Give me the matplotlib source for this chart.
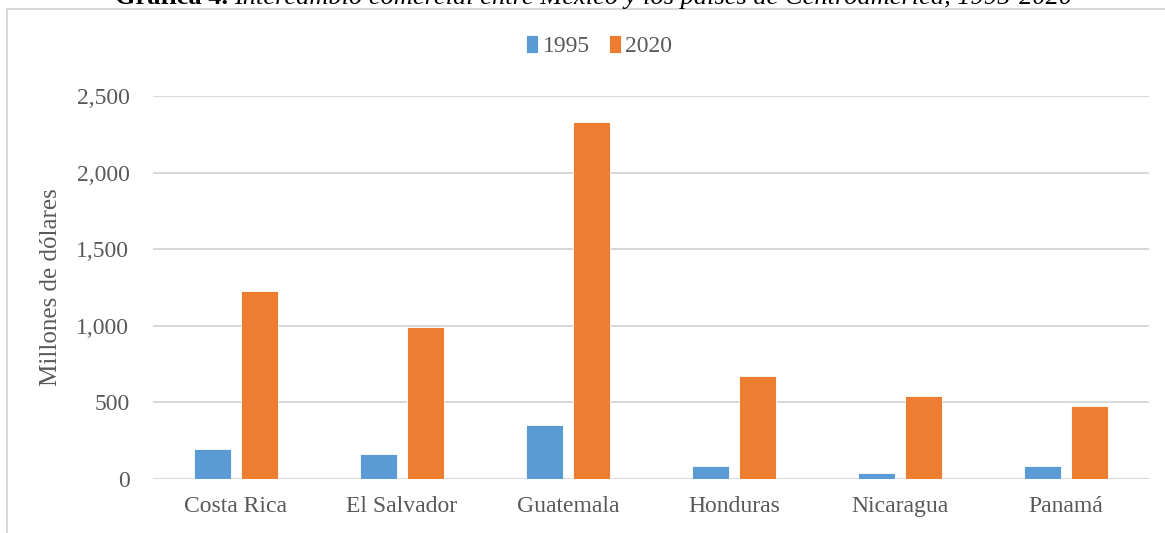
import numpy as np
import matplotlib.pyplot as plt
from matplotlib.patches import Rectangle
from matplotlib.ticker import FuncFormatter

countries = ["Costa Rica", "El Salvador", "Guatemala", "Honduras", "Nicaragua", "Panamá"]
years = ["1995", "2020"]
values_1995 = [196, 165, 354, 82, 41, 87]
values_2020 = [1224, 995, 2331, 675, 545, 478]
yticks = [0, 500, 1000, 1500, 2000, 2500]

blue = "#5B9BD5"
orange = "#ED7D31"
grey_text = "#595959"

plt.rcParams["font.family"] = ["Liberation Serif", "DejaVu Serif"]

fig = plt.figure(figsize=(11.65, 5.33), dpi=100)

# outer chart frame (cut off at right and bottom like the source)
fig.patches.append(Rectangle((7 / 1165, -0.05), 1.1, (533 - 9) / 533 + 0.05,
                             transform=fig.transFigure, fill=False,
                             edgecolor="#d9d9d9", linewidth=1.5))

# title, partly cut at the top as in the source; bold + italic pieces centred together
ty = 1 - 4 / 533
t1 = fig.text(0, ty, "Gráfica 4. ", ha="left", va="baseline",
              fontsize=19, fontweight="bold", color="black")
t2 = fig.text(0, ty,
              "Intercambio comercial entre México y los países de Centroamérica, 1995-2020",
              ha="left", va="baseline", fontsize=19, fontstyle="italic", color="black")
r = fig.canvas.get_renderer()
w1 = t1.get_window_extent(r).width
w2 = t2.get_window_extent(r).width
x0 = (1187 - (w1 + w2)) / 2 / 1165
t1.set_x(x0)
t2.set_x(x0 + w1 / 1165)

ax = fig.add_axes([153 / 1165, 54 / 533, (1149 - 153) / 1165, (479 - 96) / 533])

x = np.arange(len(countries))
w = 0.225
off = 0.143
ax.bar(x - off, values_1995, w, color=blue, edgecolor="white", linewidth=0.6,
       label=years[0], zorder=3)
ax.bar(x + off, values_2020, w, color=orange, edgecolor="white", linewidth=0.6,
       label=years[1], zorder=3)

ax.set_xlim(-0.5, len(countries) - 0.5)
ax.set_ylim(0, 2500)
ax.set_yticks(yticks)
ax.yaxis.set_major_formatter(FuncFormatter(lambda v, p: f"{int(v):,}"))
ax.set_xticks(x)
ax.set_xticklabels(countries)
ax.tick_params(axis="both", length=0, labelsize=17, labelcolor=grey_text)
ax.tick_params(axis="y", pad=17)
ax.tick_params(axis="x", pad=12)
ax.grid(axis="y", color="#d9d9d9", linewidth=1.5, zorder=0)
for s in ax.spines.values():
    s.set_visible(False)
ax.set_ylabel("Millones de dólares", fontsize=18, color=grey_text, labelpad=10)

ax.legend(loc="center", bbox_to_anchor=(0.448, (533 - 46 - 54) / (479 - 96)),
          ncol=2, frameon=False, fontsize=17, handlelength=0.5, handleheight=0.8,
          handletextpad=0.2, columnspacing=0.8, labelcolor=grey_text)

fig.savefig("out.png", dpi=100)
